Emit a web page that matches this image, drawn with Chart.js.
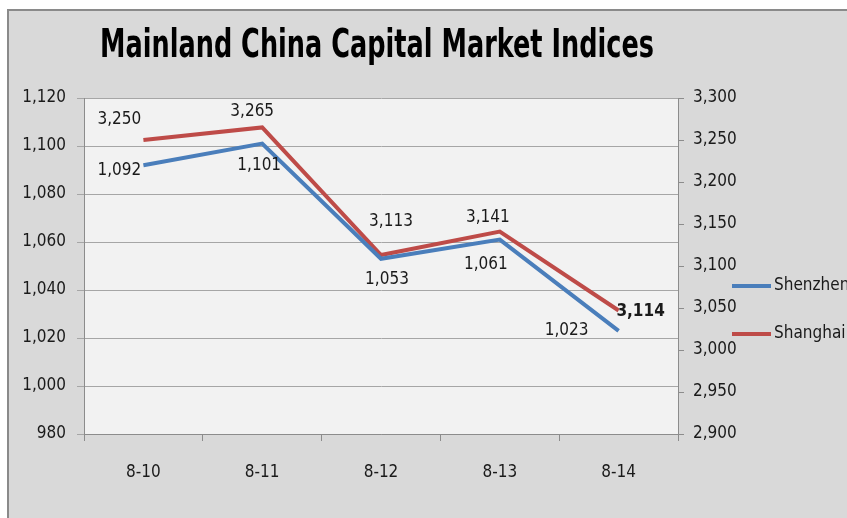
<!DOCTYPE html>
<html>
<head>
<meta charset="utf-8">
<script src="https://cdn.jsdelivr.net/npm/chart.js@4/dist/chart.umd.min.js"></script>
<style>
  html, body { margin: 0; padding: 0; background: #fff; overflow: hidden; }
  #wrap { position: relative; width: 847px; height: 518px; }
</style>
</head>
<body>
<div id="wrap"><canvas id="c" width="847" height="518"></canvas></div>
<script>
// Mainland China capital market indices, 8-10 .. 8-14

const days = ['8-10', '8-11', '8-12', '8-13', '8-14'];
const shenzhen = [1092, 1101, 1053, 1061, 1023];
const shanghai = [3250, 3265, 3113, 3141, 3047];
// text shown next to each point (the last Shanghai label reads 3,114 in the source)
const shenzhenLabels = ['1,092', '1,101', '1,053', '1,061', '1,023'];
const shanghaiLabels = ['3,250', '3,265', '3,113', '3,141', '3,114'];
const leftTicks = [980, 1120, 20];
const rightTicks = [2900, 3300, 50];

const FONT = '"DejaVu Sans Condensed", "DejaVu Sans", sans-serif';
const SIZE = 17;
const fmt = v => Number(v).toLocaleString('en-US');

// label offsets from each point, px (dx, dy, bold)
const placement = [
  [[-24, 5], [-3, 22], [6, 21], [-14, 25], [-52, 0]],
  [[-24, -20], [-10, -16], [10, -34], [-12, -14], [22, 1, true]],
];

const frame = {
  id: 'frame',
  beforeDraw(chart) {
    const ctx = chart.ctx, a = chart.chartArea;
    ctx.save();
    ctx.fillStyle = '#ffffff';
    ctx.fillRect(0, 0, chart.width, chart.height);
    ctx.fillStyle = '#d9d9d9';
    ctx.fillRect(8, 10, chart.width, chart.height);
    ctx.strokeStyle = '#8a8a8a';
    ctx.lineWidth = 2;
    ctx.beginPath();
    ctx.moveTo(8, chart.height); ctx.lineTo(8, 10); ctx.lineTo(chart.width, 10);
    ctx.stroke();
    ctx.fillStyle = '#f2f2f2';
    ctx.fillRect(a.left, a.top, a.right - a.left, a.bottom - a.top);
    ctx.restore();
  },
  afterDraw(chart) {
    const ctx = chart.ctx;
    ctx.save();
    // title, squeezed like the original
    ctx.font = 'bold 39px ' + FONT;
    ctx.fillStyle = '#000';
    ctx.textBaseline = 'alphabetic';
    ctx.textAlign = 'center';
    const title = 'Mainland China Capital Market Indices';
    const sx = 554 / ctx.measureText(title).width;
    ctx.translate(377, 57);
    ctx.scale(sx, 1);
    ctx.fillText(title, 0, 0);
    ctx.restore();

    // legend
    ctx.save();
    ctx.font = SIZE + 'px ' + FONT;
    ctx.textBaseline = 'middle';
    ctx.textAlign = 'left';
    chart.data.datasets.forEach((ds, i) => {
      const y = 286 + i * 48;
      ctx.strokeStyle = ds.borderColor;
      ctx.lineWidth = 4;
      ctx.beginPath(); ctx.moveTo(732, y); ctx.lineTo(771, y); ctx.stroke();
      ctx.fillStyle = '#1a1a1a';
      ctx.fillText(ds.label, 774, y);
    });
    ctx.restore();
  },
  afterDatasetsDraw(chart) {
    const ctx = chart.ctx;
    ctx.save();
    ctx.textAlign = 'center';
    ctx.textBaseline = 'middle';
    ctx.fillStyle = '#1a1a1a';
    chart.data.datasets.forEach((ds, i) => {
      chart.getDatasetMeta(i).data.forEach((pt, j) => {
        const p = placement[i][j];
        ctx.font = (p[2] ? 'bold ' : '') + SIZE + 'px ' + FONT;
        ctx.fillText(ds.pointText[j], pt.x + p[0], pt.y + p[1]);
      });
    });
    ctx.restore();
  },
};

new Chart(document.getElementById('c'), {
  type: 'line',
  data: {
    labels: days,
    datasets: [
      { label: 'Shenzhen', data: shenzhen, pointText: shenzhenLabels, yAxisID: 'y',
        borderColor: '#4a7ebb', borderWidth: 4, pointRadius: 0, tension: 0 },
      { label: 'Shanghai', data: shanghai, pointText: shanghaiLabels, yAxisID: 'y2',
        borderColor: '#be4b48', borderWidth: 4, pointRadius: 0, tension: 0 },
    ],
  },
  options: {
    responsive: false,
    animation: false,
    layout: { padding: { top: 98, left: 0, right: 0, bottom: 0 } },
    plugins: { legend: { display: false }, title: { display: false }, tooltip: { enabled: false } },
    scales: {
      x: {
        offset: true,
        afterFit: s => { s.height = 84; },
        grid: { offset: true, drawOnChartArea: false, drawTicks: true, tickLength: 7, color: '#8c8c8c' },
        border: { color: '#8c8c8c' },
        ticks: { padding: 21, color: '#1a1a1a', font: { family: FONT, size: SIZE } },
      },
      y: {
        position: 'left',
        min: leftTicks[0], max: leftTicks[1],
        afterFit: s => { s.width = 84; },
        grid: { color: '#a6a6a6', tickLength: 7 },
        border: { color: '#8c8c8c' },
        ticks: { stepSize: leftTicks[2], padding: 11, color: '#1a1a1a',
          font: { family: FONT, size: SIZE }, callback: v => fmt(v) },
      },
      y2: {
        position: 'right',
        min: rightTicks[0], max: rightTicks[1],
        afterFit: s => { s.width = 169; },
        grid: { drawOnChartArea: false, color: '#8c8c8c', tickLength: 6 },
        border: { color: '#8c8c8c' },
        ticks: { stepSize: rightTicks[2], padding: 9, color: '#1a1a1a',
          font: { family: FONT, size: SIZE }, callback: v => fmt(v) },
      },
    },
  },
  plugins: [frame],
});
</script>
</body>
</html>
